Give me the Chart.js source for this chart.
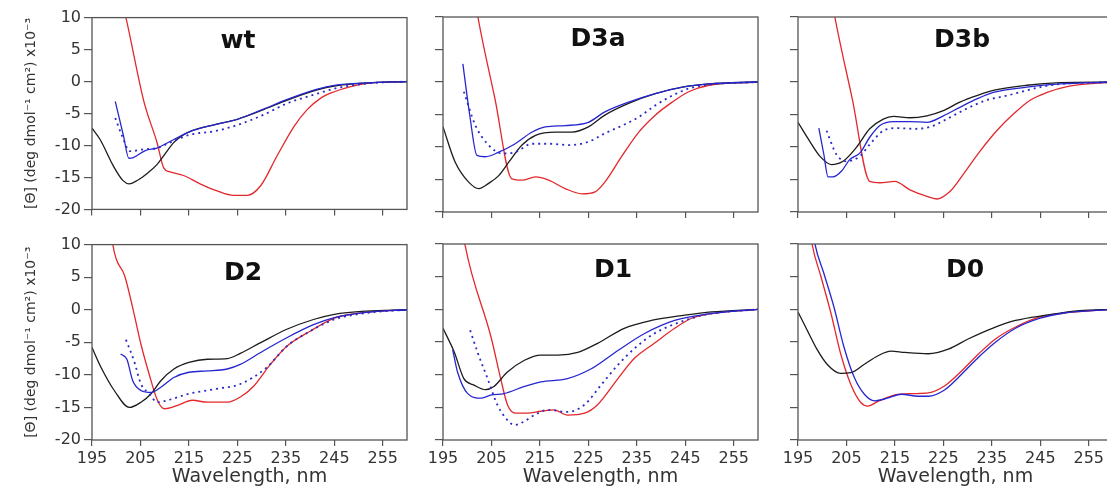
<!DOCTYPE html>
<html>
<head>
<meta charset="utf-8">
<title>CD spectra</title>
<script src="https://cdn.jsdelivr.net/npm/chart.js@4.4.1/dist/chart.umd.min.js"></script>
<style>
  html, body { margin: 0; padding: 0; background: #fff; overflow: hidden; }
  body { width: 1107px; height: 490px; position: relative; }
  canvas { position: absolute; }
</style>
</head>
<body>
<canvas id="wt"></canvas>
<canvas id="d3a"></canvas>
<canvas id="d3b"></canvas>
<canvas id="d2"></canvas>
<canvas id="d1"></canvas>
<canvas id="d0"></canvas>
<script>
// Axis ticks (wavelength in nm, ellipticity x10^-3)
const xTicks = [195, 205, 215, 225, 235, 245, 255];
const yTicks = [-20, -15, -10, -5, 0, 5, 10];

// Spectra as [wavelength, value] pairs
const wtBlack = [[195,-7.3],[196.7,-9.1],[199.4,-13.2],[201.4,-15.5],[202.7,-16.0],[204.5,-15.4],[206.5,-14.3],[208.4,-13.0],[210,-11.4],[211.8,-9.6],[213.5,-8.5],[215.3,-7.8],[220,-6.8],[225,-5.9],[230.4,-4.4],[235.3,-2.9],[241.5,-1.3],[245,-0.7],[251.8,-0.2],[260,0]];
const wtBlue = [[199.8,-3.1],[201.5,-8.5],[202.6,-12.0],[203.5,-11.9],[206,-10.8],[208.4,-10.4],[211.8,-9.1],[215.3,-7.8],[220,-6.8],[225,-5.9],[230.4,-4.3],[235.3,-2.8],[241.5,-1.2],[245,-0.6],[251.8,-0.2],[260,0]];
const wtDotted = [[199.8,-5.7],[201.2,-8.5],[202.8,-10.9],[205.7,-10.6],[208.4,-10.4],[211.8,-9.3],[215.3,-8.3],[220.1,-7.8],[225,-6.8],[230.4,-5.2],[235.3,-3.4],[241.5,-1.9],[245,-1.1],[251.8,-0.3],[260,0]];
const wtRed = [[200,16],[202,10],[205.7,-3.1],[208.4,-9.5],[209.8,-13.5],[211,-14.1],[213.9,-14.7],[217.3,-16.0],[220.8,-17.1],[224.2,-17.8],[227,-17.8],[229.8,-16.3],[233.2,-11.6],[236.7,-7.0],[239.4,-4.4],[242.2,-2.6],[245,-1.6],[248.4,-0.8],[251.8,-0.3],[260,0]];

const d3aBlack = [[195,-6.9],[197.5,-12.3],[200.3,-15.4],[202.4,-16.4],[204.4,-15.6],[206.5,-14.4],[208.6,-12.3],[211.3,-9.7],[214.1,-8.2],[218.2,-7.7],[221.6,-7.7],[225,-6.9],[228.4,-5.1],[233.3,-3.3],[238.8,-1.8],[244.4,-0.8],[249.9,-0.3],[260,0]];
const d3aBlue = [[199.1,2.8],[200.5,-5.0],[202,-11.3],[203.7,-11.5],[206.5,-10.8],[209.9,-9.5],[213.4,-7.7],[216.1,-6.9],[220.2,-6.7],[225,-6.2],[228.4,-4.6],[233.3,-3.1],[238.8,-1.8],[244.4,-0.8],[249.9,-0.3],[260,0]];
const d3aDotted = [[199.3,-1.5],[201.7,-6.7],[204.4,-9.7],[207.2,-11.0],[209.9,-10.8],[213.4,-9.5],[216.8,-9.5],[221,-9.7],[225,-9.2],[228.4,-7.9],[232,-6.7],[235.4,-5.4],[238.8,-3.6],[242.3,-2.1],[245.7,-1.0],[249.9,-0.4],[260,0]];
const d3aRed = [[200.5,18],[202.2,10],[205.7,-2.5],[209.2,-14.9],[211.3,-15.1],[214.1,-14.6],[216.8,-15.1],[220.2,-16.4],[223.7,-17.2],[226.4,-16.9],[228.4,-15.4],[232,-11.3],[235.4,-7.7],[238.8,-5.1],[242.3,-3.1],[245.7,-1.5],[249.9,-0.5],[260,0]];

const d3bBlack = [[195,-6.2],[197.4,-9.1],[199.5,-11.4],[201.9,-12.7],[204.3,-12.2],[207,-10.1],[209.8,-7.2],[212.6,-5.7],[214.7,-5.3],[218.1,-5.5],[221.6,-5.2],[225,-4.4],[228.4,-3.1],[231.9,-2.1],[235.3,-1.3],[242.2,-0.5],[249.1,-0.1],[260,0]];
const d3bBlue = [[199.3,-7.1],[200.3,-11.0],[201.2,-14.6],[202.2,-14.6],[204,-13.7],[205.7,-11.9],[207.8,-10.9],[209.8,-8.5],[211.9,-6.7],[214.7,-6.1],[218.1,-6.1],[221.6,-6.2],[225,-5.2],[228.4,-3.9],[231.9,-2.6],[235.3,-1.6],[242.2,-0.8],[249.1,-0.3],[260,0]];
const d3bDotted = [[200.9,-7.5],[202.9,-11.1],[205,-12.2],[207.8,-11.4],[209.8,-9.6],[212.6,-7.5],[215.4,-7.1],[218.8,-7.2],[222.3,-6.9],[225.7,-5.7],[229.8,-4.1],[233.9,-2.8],[238.1,-2.1],[242.2,-1.3],[247,-0.5],[260,0]];
const d3bRed = [[201,17],[202.6,10],[206.2,-2.6],[209.8,-15.3],[211.9,-15.5],[215,-15.3],[218.1,-16.6],[221.6,-17.6],[223.6,-18.0],[226.4,-16.8],[229.1,-14.2],[232.6,-10.6],[236,-7.5],[239.5,-4.9],[242.9,-2.8],[246.4,-1.6],[250.5,-0.7],[260,0]];

const d2Black = [[195,-5.8],[196.9,-8.9],[199.6,-12.4],[202.7,-15.0],[205.1,-14.2],[207.2,-12.9],[209.2,-10.9],[211.9,-9.1],[215,-8.1],[218.8,-7.6],[222.9,-7.5],[225.6,-6.7],[229.7,-5.1],[235.2,-3.0],[240.7,-1.5],[245,-0.7],[251.6,-0.2],[260,0]];
const d2Blue = [[200.9,-6.8],[202.2,-7.6],[203.4,-10.9],[205.1,-12.4],[207.2,-12.7],[209.2,-11.9],[211.9,-10.4],[215,-9.6],[218.8,-9.4],[222.9,-9.1],[225.6,-8.4],[229.7,-6.6],[235.2,-4.3],[240.7,-2.3],[245,-1.2],[251.6,-0.4],[260,0]];
const d2Dotted = [[202,-4.6],[203.7,-7.9],[205.1,-11.4],[206.8,-12.9],[208.5,-14.2],[210.6,-13.9],[215,-12.9],[220.2,-12.2],[225.6,-11.4],[231,-8.9],[235.2,-5.6],[240,-3.3],[245,-1.5],[251.6,-0.5],[260,0]];
const d2Red = [[199,12],[199.3,10],[200,7.8],[201.7,5.3],[203.4,0.3],[205.1,-5.3],[206.8,-9.9],[208.5,-13.9],[209.9,-15.2],[212.6,-14.7],[215.7,-13.9],[218.8,-14.2],[222.9,-14.2],[225.6,-13.4],[228.4,-11.7],[231.8,-8.4],[235.2,-5.6],[240,-3.3],[245,-1.3],[248.3,-0.7],[253,-0.3],[260,0]];

const d1Black = [[195,-2.9],[197.3,-6.5],[199.3,-10.6],[201.4,-11.6],[203.8,-12.3],[205.5,-11.8],[208.3,-9.6],[211.8,-7.8],[215.2,-7.0],[218.7,-7.0],[222.8,-6.6],[226.9,-5.2],[232.4,-2.9],[238,-1.7],[244.9,-0.9],[250.4,-0.4],[260,0]];
const d1Blue = [[197,-6.2],[198,-9.6],[200.1,-12.9],[202.9,-13.6],[205,-13.1],[207.6,-12.9],[211.8,-11.8],[215.2,-11.1],[220.7,-10.6],[225.6,-9.1],[231.1,-6.3],[236.6,-3.7],[242.8,-1.7],[249.7,-0.7],[260,0]];
const d1Dotted = [[200.6,-3.2],[202.1,-6.5],[204.2,-10.6],[206.2,-14.6],[208,-16.7],[209.7,-17.7],[211.4,-17.3],[213.8,-16.2],[216.6,-15.4],[220.7,-15.7],[224.2,-14.6],[227.6,-11.6],[231.1,-8.5],[234.5,-6.0],[238.6,-3.7],[244.9,-1.7],[249.9,-0.7],[260,0]];
const d1Red = [[198.5,15],[199.5,10],[205,-4.5],[206.9,-10.6],[208.3,-14.6],[210,-15.9],[212.4,-15.9],[215.2,-15.6],[217.9,-15.4],[220.7,-16.2],[224.2,-15.9],[226.9,-14.6],[231.1,-10.6],[234.5,-7.5],[238.6,-5.2],[242.8,-2.9],[246.2,-1.4],[250,-0.7],[260,0]];

const d0Black = [[195,-0.4],[196.9,-3.2],[198.9,-6.1],[201,-8.4],[203.8,-9.8],[205.9,-9.7],[208.7,-8.4],[211.5,-7.1],[214.2,-6.4],[217,-6.6],[221.9,-6.8],[226,-6.1],[230.2,-4.5],[235.1,-2.9],[239.9,-1.7],[246.2,-0.9],[253.1,-0.2],[260,0]];
const d0Blue = [[197.5,15],[198.5,10],[200.3,5.6],[202.4,0.4],[204.5,-5.8],[206.6,-10.4],[208.7,-13.0],[210.8,-14.0],[213.5,-13.6],[216.3,-13.0],[219.8,-13.3],[221.9,-13.3],[225.3,-12.3],[228.8,-9.9],[232.3,-7.3],[235.8,-5.0],[239.9,-2.9],[244.8,-1.4],[249.6,-0.6],[260,0]];
const d0Red = [[197,15],[197.9,10],[199.7,5.1],[201.8,-0.6],[203.8,-6.8],[205.9,-11.5],[208,-14.3],[209.4,-14.8],[211.5,-14.1],[215,-13.1],[218.5,-12.9],[221.9,-12.8],[225.3,-11.7],[228.8,-9.4],[232.3,-6.8],[235.8,-4.5],[239.9,-2.7],[244.8,-1.2],[249.6,-0.6],[260,0]];

// Grid layout of the six panels (plot-area pixels)
const PLOT_W = 315;
const COL_LEFT = [92, 443, 798];
const ROW_TOP = [17, 244];
const ROW_H = [195, 196];
const FONT = '"DejaVu Sans", "Liberation Sans", sans-serif';
const AXIS_COLOR = '#555';

// Draws the box around the plot area
const framePlugin = {
    id: 'frame',
    afterDatasetsDraw(chart) {
        const { ctx, chartArea: a } = chart;
        ctx.save();
        ctx.strokeStyle = AXIS_COLOR;
        ctx.lineWidth = 1.3;
        ctx.strokeRect(a.left, a.top, a.right - a.left, a.bottom - a.top);
        ctx.restore();
    }
};

// Bold panel label inside the plot area
const panelLabel = {
    id: 'panelLabel',
    afterDatasetsDraw(chart, args, opts) {
        const { ctx, chartArea: a } = chart;
        ctx.save();
        ctx.font = 'bold 25px ' + FONT;
        ctx.fillStyle = '#111';
        ctx.textAlign = 'center';
        ctx.textBaseline = 'alphabetic';
        ctx.fillText(opts.text, a.left + opts.dx, a.top + opts.dy);
        ctx.restore();
    }
};

function toPoints(pairs) {
    return pairs.map(p => ({ x: p[0], y: p[1] }));
}

function line(pairs, color, dashed) {
    return {
        data: toPoints(pairs),
        borderColor: color,
        borderWidth: dashed ? 1.8 : 1.3,
        borderDash: dashed ? [2, 4] : [],
        pointRadius: 0,
        fill: false,
        cubicInterpolationMode: 'monotone'
    };
}

function makePanel(id, col, row, label, dx, dy, curves) {
    const left = col === 0 ? 92 : 24;   // room for y axis
    const top = 12, right = 4;
    const bottom = row === 1 ? 50 : 10; // room for x axis
    const canvas = document.getElementById(id);
    canvas.width = left + PLOT_W + right;
    canvas.height = top + ROW_H[row] + bottom;
    canvas.style.left = (COL_LEFT[col] - left) + 'px';
    canvas.style.top = (ROW_TOP[row] - top) + 'px';

    const showY = col === 0;
    const showX = row === 1;

    new Chart(canvas, {
        type: 'line',
        data: {
            datasets: [
                line(curves.blue, '#2626d0', false),
                line(curves.dotted, '#2a2ac8', true),
                line(curves.black, '#1c1c1c', false),
                line(curves.red, '#e3282c', false)
            ]
        },
        options: {
            responsive: false,
            animation: false,
            events: [],
            layout: { padding: { top: top, right: right, left: 0, bottom: 0 } },
            plugins: {
                legend: { display: false },
                tooltip: { enabled: false },
                panelLabel: { text: label, dx: dx, dy: dy }
            },
            scales: {
                x: {
                    type: 'linear',
                    min: 195,
                    max: 260,
                    afterBuildTicks: s => { s.ticks = xTicks.map(v => ({ value: v })); },
                    afterFit: s => { s.height = bottom; },
                    border: { display: false },
                    grid: { drawOnChartArea: false, drawTicks: true, tickLength: 6, color: AXIS_COLOR, lineWidth: 1.2 },
                    ticks: {
                        display: showX,
                        autoSkip: false,
                        maxRotation: 0,
                        padding: 3,
                        color: '#333',
                        font: { family: FONT, size: 16 }
                    },
                    title: {
                        display: showX,
                        text: 'Wavelength, nm',
                        color: '#333',
                        font: { family: FONT, size: 19 },
                        padding: { top: 0, bottom: 2 }
                    }
                },
                y: {
                    min: -20,
                    max: 10,
                    afterBuildTicks: s => { s.ticks = yTicks.map(v => ({ value: v })); },
                    afterFit: s => { s.width = left; },
                    border: { display: false },
                    grid: { drawOnChartArea: false, drawTicks: true, tickLength: 8, color: AXIS_COLOR, lineWidth: 1.2 },
                    ticks: {
                        display: showY,
                        padding: 3,
                        color: '#333',
                        font: { family: FONT, size: 16 }
                    },
                    title: {
                        display: showY,
                        text: '[Θ] (deg dmol\u207B\u00B9 cm\u00B2) x10\u207B\u00B3',
                        color: '#333',
                        font: { family: FONT, size: 14 },
                        padding: { top: 23, bottom: 0 }
                    }
                }
            }
        },
        plugins: [framePlugin, panelLabel]
    });
}

makePanel('wt', 0, 0, 'wt', 146, 30, { black: wtBlack, blue: wtBlue, dotted: wtDotted, red: wtRed });
makePanel('d3a', 1, 0, 'D3a', 155, 29, { black: d3aBlack, blue: d3aBlue, dotted: d3aDotted, red: d3aRed });
makePanel('d3b', 2, 0, 'D3b', 164, 30, { black: d3bBlack, blue: d3bBlue, dotted: d3bDotted, red: d3bRed });
makePanel('d2', 0, 1, 'D2', 151, 35, { black: d2Black, blue: d2Blue, dotted: d2Dotted, red: d2Red });
makePanel('d1', 1, 1, 'D1', 170, 33, { black: d1Black, blue: d1Blue, dotted: d1Dotted, red: d1Red });
makePanel('d0', 2, 1, 'D0', 167, 33, { black: d0Black, blue: d0Blue, dotted: [], red: d0Red });
</script>
</body>
</html>
